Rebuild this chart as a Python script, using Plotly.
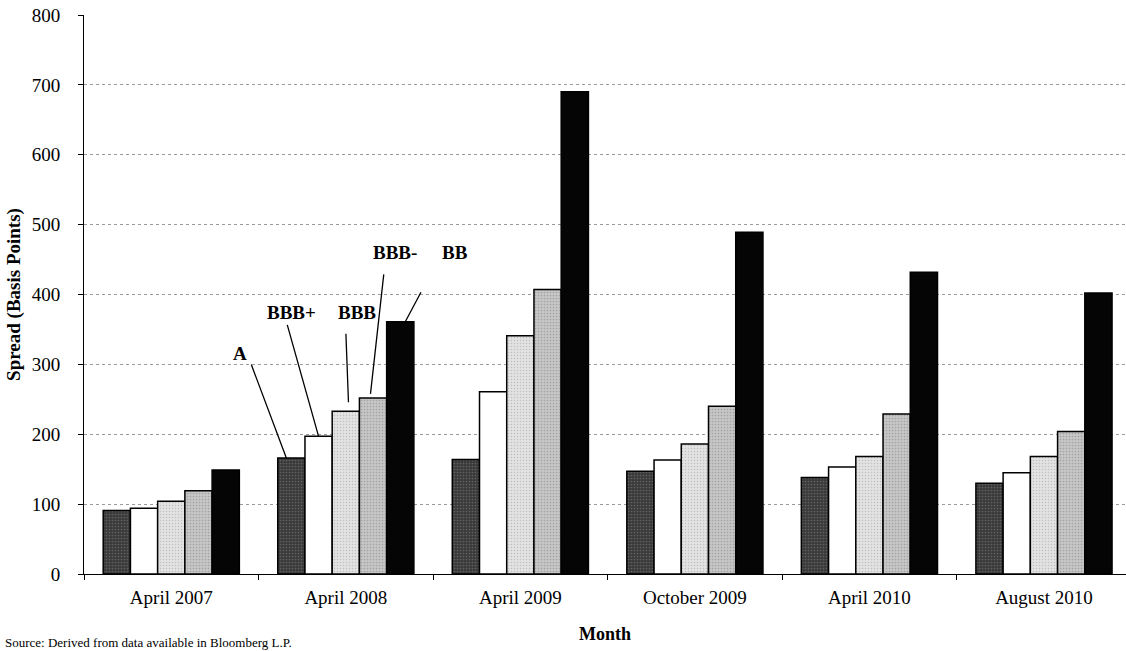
import plotly.graph_objects as go

# Credit spreads by rating bucket, basis points
months = ["April 2007", "April 2008", "April 2009", "October 2009", "April 2010", "August 2010"]
ratings = ["A", "BBB+", "BBB", "BBB-", "BB"]
spread_a = [91, 166, 164, 147, 138, 130]
spread_bbb_plus = [94, 197, 261, 163, 153, 145]
spread_bbb = [104, 233, 341, 186, 168, 168]
spread_bbb_minus = [119, 252, 407, 240, 229, 204]
spread_bb = [149, 361, 690, 489, 432, 402]
y_ticks = [0, 100, 200, 300, 400, 500, 600, 700, 800]

series = [spread_a, spread_bbb_plus, spread_bbb, spread_bbb_minus, spread_bb]
fills = [
    dict(color="#474747", pattern=dict(shape=".", fgcolor="#8a8a8a", bgcolor="#3a3a3a", size=3, solidity=0.25)),
    dict(color="#ffffff"),
    dict(color="#d4d4d4", pattern=dict(shape=".", fgcolor="#9a9a9a", bgcolor="#e2e2e2", size=3, solidity=0.2)),
    dict(color="#b4b4b4", pattern=dict(shape=".", fgcolor="#808080", bgcolor="#c6c6c6", size=3, solidity=0.25)),
    dict(color="#050505"),
]

SERIF = "Liberation Serif, Times New Roman, serif"

fig = go.Figure()
for name, vals, fill in zip(ratings, series, fills):
    fig.add_trace(go.Bar(
        x=months, y=vals, name=name,
        marker=dict(line=dict(color="#000000", width=1.5), **fill),
    ))

# Rating callouts on the April 2008 group: (text offset dx, dy), (line start ax, ay), tip shift, standoff
n = len(ratings)
bargap = 0.22
bar_w = (1 - bargap) / n
callouts = [
    ((-51, -105), (-41, -96), -5, 0),
    ((-27, -124), (-32, -114), 0, 0),
    ((11, -99), (0, -80), 3, 9),
    ((22, -145), (11, -126), -3, 4),
    ((55, -69), (22, -32), 5, 0),
]
annotations = []
g = months.index("April 2008")
for i, (label, vals, (txt, line, shift, stand)) in enumerate(zip(ratings, series, callouts)):
    bx = g + (i - (n - 1) / 2) * bar_w
    by = vals[g]
    annotations.append(dict(
        x=bx, y=by, xref="x", yref="y", text=" ", showarrow=True,
        arrowhead=0, arrowwidth=1.3, arrowcolor="#000000",
        ax=line[0] - shift, ay=line[1], xshift=shift, standoff=stand,
        font=dict(size=2),
    ))
    annotations.append(dict(
        x=bx, y=by, xref="x", yref="y", text="<b>%s</b>" % label, showarrow=False,
        xshift=txt[0], yshift=-txt[1],
        font=dict(family=SERIF, size=19, color="#000000"),
    ))

annotations.append(dict(
    x=-0.078, y=-0.105, xref="paper", yref="paper", xanchor="left", yanchor="top",
    text="Source: Derived from data available in Bloomberg L.P.", showarrow=False,
    font=dict(family=SERIF, size=13, color="#000000"),
))

fig.update_layout(
    width=1126, height=651,
    margin=dict(l=84, r=0, t=15, b=77),
    barmode="group", bargap=bargap, bargroupgap=0,
    plot_bgcolor="#ffffff", paper_bgcolor="#ffffff",
    showlegend=False,
    font=dict(family=SERIF, size=19, color="#000000"),
    annotations=annotations,
)
fig.update_xaxes(
    type="category", range=[-0.5, 5.47],
    showline=True, linecolor="#000000", linewidth=1,
    ticks="outside", tickson="boundaries", ticklen=5, tickcolor="#000000",
    ticklabelstandoff=6,
    showgrid=False,
    title=dict(text="<b>Month</b>", standoff=20, font=dict(family=SERIF, size=18)),
)
fig.update_yaxes(
    range=[0, 800], tickvals=y_ticks,
    showline=True, linecolor="#000000", linewidth=1,
    ticks="outside", ticklen=5, tickcolor="#000000",
    ticklabelstandoff=14,
    showgrid=True, gridcolor="#9a9a9a", griddash="dot", gridwidth=1,
    zeroline=False,
    title=dict(text="<b>Spread (Basis Points)</b>", standoff=6, font=dict(family=SERIF, size=19)),
)

fig.write_html("out.html")
